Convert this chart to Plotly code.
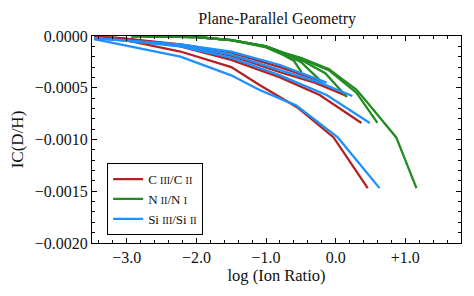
import plotly.graph_objects as go

# C III / C II curves
c_x = [
    [-3.47, -3.09, -2.23, -1.5, -1.1, -0.55, -0.03, 0.46],
    [-3.47, -3.09, -2.23, -1.5, -0.8, -0.23, 0.37],
    [-3.47, -3.09, -2.23, -1.5, -0.8, -0.3, 0.16],
    [-3.47, -3.09, -2.23, -1.5, -0.8, -0.19],
]
c_y = [
    [-0.00001, -0.00003, -0.00015, -0.0003, -0.00047, -0.00069, -0.00098, -0.00147],
    [-0.00001, -0.00002, -0.0001, -0.00023, -0.0004, -0.00057, -0.00084],
    [-0.00001, -0.00002, -0.00009, -0.00019, -0.00035, -0.00045, -0.00058],
    [-0.00001, -0.00002, -0.00008, -0.00016, -0.0003, -0.00044],
]

# N II / N I curves
n_x = [
    [-2.94, -2.0, -1.5, -1.0, -0.76, -0.5, -0.1, 0.3, 0.44, 0.87, 1.16],
    [-2.94, -2.0, -1.5, -1.0, -0.76, -0.5, -0.1, 0.3, 0.6],
    [-2.94, -2.0, -1.5, -1.0, -0.76, -0.5, -0.15, 0.16],
    [-2.94, -2.0, -1.5, -1.0, -0.76, -0.5, -0.19],
    [-2.94, -2.0, -1.5, -1.0, -0.76, -0.6, -0.49],
]
n_y = [
    [0.0, -0.00001, -0.00004, -0.0001, -0.00016, -0.00021, -0.00032, -0.00052, -0.00063, -0.00098, -0.00147],
    [0.0, -0.00001, -0.00004, -0.0001, -0.00016, -0.00022, -0.00033, -0.00055, -0.00084],
    [0.0, -0.00001, -0.00004, -0.0001, -0.00016, -0.00023, -0.00036, -0.00059],
    [0.0, -0.00001, -0.00004, -0.0001, -0.00017, -0.00025, -0.00045],
    [0.0, -0.00001, -0.00004, -0.00011, -0.00018, -0.00024, -0.00035],
]

# Si III / Si II curves
si_x = [
    [-3.47, -3.09, -2.23, -1.5, -1.1, -0.57, 0.03, 0.63],
    [-3.47, -3.09, -2.23, -1.5, -0.8, -0.13, 0.49],
    [-3.47, -3.09, -2.23, -1.5, -0.8, -0.23, 0.24],
    [-3.47, -3.09, -2.23, -1.5, -0.8, -0.13],
]
si_y = [
    [-0.00003, -0.00008, -0.0002, -0.00038, -0.00052, -0.00067, -0.00098, -0.00147],
    [-0.00002, -0.00004, -0.0001, -0.00021, -0.00038, -0.00057, -0.00084],
    [-0.00002, -0.00004, -0.00009, -0.00018, -0.00033, -0.00045, -0.00058],
    [-0.00002, -0.00004, -0.00008, -0.00015, -0.00028, -0.00045],
]

x_tickvals = [-3.0, -2.0, -1.0, 0.0, 1.0]
x_ticktext = ["\u22123.0", "\u22122.0", "\u22121.0", "0.0", "+1.0"]
y_tickvals = [0.0, -0.0005, -0.001, -0.0015, -0.002]
y_ticktext = ["0.0000", "\u22120.0005", "\u22120.0010", "\u22120.0015", "\u22120.0020"]


def sc(s):
    # small-caps roman numerals
    return f"<span style='font-size:10px'>{s}</span>"


series = [
    (f"C {sc('III')}/C {sc('II')}", c_x, c_y, "#b22222"),
    (f"N {sc('II')}/N {sc('I')}", n_x, n_y, "#228b22"),
    (f"Si {sc('III')}/Si {sc('II')}", si_x, si_y, "#1e90ff"),
]

fig = go.Figure()
for name, xs, ys, color in series:
    for i, (x, y) in enumerate(zip(xs, ys)):
        fig.add_trace(
            go.Scatter(
                x=x,
                y=y,
                mode="lines",
                name=name,
                legendgroup=name,
                showlegend=(i == 0),
                line=dict(color=color, width=2.3),
            )
        )

font = "Liberation Serif"
# the page body adds an 8px offset, so margins are shifted to compensate
fig.update_layout(
    width=474,
    height=296,
    margin=dict(l=84, r=21, t=28, b=61, autoexpand=False),
    paper_bgcolor="white",
    plot_bgcolor="white",
    font=dict(family=font, size=16, color="#111"),
    title=dict(
        text="Plane-Parallel Geometry",
        x=0.568,
        xanchor="center",
        y=0.966,
        yanchor="middle",
        font=dict(family=font, size=16),
    ),
    legend=dict(
        x=0.041,
        y=0.386,
        xanchor="left",
        yanchor="top",
        bgcolor="white",
        bordercolor="black",
        borderwidth=1,
        font=dict(family=font, size=13),
        tracegroupgap=0,
        itemwidth=30,
    ),
)

fig.update_xaxes(
    range=[-3.5, 1.8],
    tickvals=x_tickvals,
    ticktext=x_ticktext,
    ticks="inside",
    ticklen=5,
    tickcolor="black",
    showline=True,
    linecolor="black",
    linewidth=1,
    mirror="ticks",
    showgrid=False,
    zeroline=False,
    minor=dict(dtick=0.2, ticks="inside", ticklen=3, tickcolor="black", showgrid=False),
    title=dict(text="log (Ion Ratio)", standoff=3, font=dict(size=16.5)),
    tickfont=dict(size=16),
    automargin=False,
)
fig.update_yaxes(
    range=[-0.002, 0.0],
    tickvals=y_tickvals,
    ticktext=y_ticktext,
    ticks="inside",
    ticklen=5,
    tickcolor="black",
    showline=True,
    linecolor="black",
    linewidth=1,
    mirror="ticks",
    showgrid=False,
    zeroline=False,
    minor=dict(dtick=0.0001, ticks="inside", ticklen=3, tickcolor="black", showgrid=False),
    title=dict(text="IC(D/H)", standoff=8, font=dict(size=17)),
    tickfont=dict(size=16),
    automargin=False,
)

fig.write_html("out.html")
